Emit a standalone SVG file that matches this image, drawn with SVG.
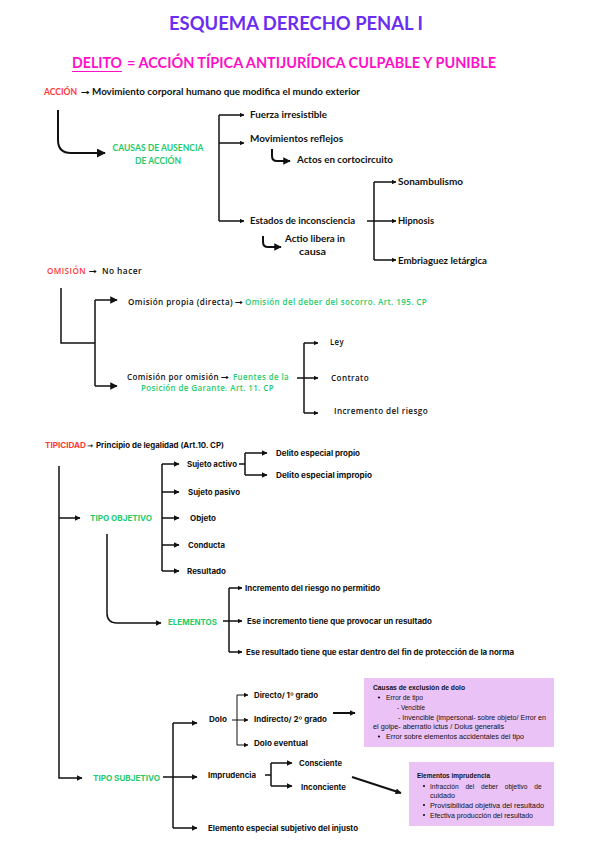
<svg xmlns="http://www.w3.org/2000/svg" width="600" height="848" viewBox="0 0 600 848">
<style>
.ac{font-family:Lato,"Open Sans","Liberation Sans",sans-serif;font-weight:700;font-size:9.5px;fill:#111}
.om{font-family:"Open Sans","Liberation Sans",sans-serif;font-weight:600;font-size:8px;fill:#111;letter-spacing:0.4px}
.ti{font-family:Inter,"Liberation Sans",sans-serif;font-weight:700;font-size:7.5px;fill:#111}
.arw{font-family:"DejaVu Sans",sans-serif;font-weight:700;fill:#111;letter-spacing:0}
.bx{font-family:"Liberation Sans",Arial,sans-serif;font-size:6.6px;fill:#111}
.bxb{font-family:"Liberation Sans",Arial,sans-serif;font-size:6.6px;font-weight:700;fill:#111}
.red{fill:#ff3838}
.grn{fill:#1fcb6b}
.ln{fill:none;stroke:#111;stroke-width:1.5}
.lt{fill:none;stroke:#111;stroke-width:2}
.box{fill:#ebc2f6}
</style>
<defs>
<marker id="a" viewBox="0 0 10 10" refX="9" refY="5" markerWidth="6" markerHeight="6" markerUnits="userSpaceOnUse" orient="auto"><path d="M0,0 L10,5 L0,10 z" fill="#111"/></marker>
<marker id="am" viewBox="0 0 10 10" refX="9" refY="5" markerWidth="7.5" markerHeight="7.5" markerUnits="userSpaceOnUse" orient="auto"><path d="M0,0 L10,5 L0,10 z" fill="#111"/></marker>
<marker id="as" viewBox="0 0 10 10" refX="9" refY="5" markerWidth="4.5" markerHeight="4.5" markerUnits="userSpaceOnUse" orient="auto"><path d="M0,0 L10,5 L0,10 z" fill="#111"/></marker>
<marker id="ab" viewBox="0 0 10 10" refX="9" refY="5" markerWidth="9" markerHeight="9" markerUnits="userSpaceOnUse" orient="auto"><path d="M0,0 L10,5 L0,10 z" fill="#111"/></marker>
</defs>

<g id="title">
<text x="296" y="30" text-anchor="middle" font-family="Lato,'Open Sans',sans-serif" font-weight="700" font-size="19" fill="#6a2ef0" textLength="254" lengthAdjust="spacingAndGlyphs">ESQUEMA DERECHO PENAL I</text>
</g>
<g id="delito">
<text x="72" y="68" font-family="Lato,'Open Sans',sans-serif" font-weight="700" font-size="15" fill="#ff0fc8" textLength="50" lengthAdjust="spacingAndGlyphs">DELITO</text>
<line x1="72" y1="71.5" x2="122" y2="71.5" stroke="#ff0fc8" stroke-width="1.2"/>
<text x="127" y="68" font-family="Lato,'Open Sans',sans-serif" font-weight="700" font-size="15" fill="#ff0fc8" textLength="369" lengthAdjust="spacingAndGlyphs">= ACCIÓN TÍPICA ANTIJURÍDICA CULPABLE Y PUNIBLE</text>
</g>

<g id="accion">
<text class="ac red" x="44" y="95" textLength="33" lengthAdjust="spacingAndGlyphs">ACCIÓN</text>
<text class="arw" font-size="8" x="81" y="95" textLength="9" lengthAdjust="spacingAndGlyphs">→</text>
<text class="ac" x="92" y="95" textLength="268" lengthAdjust="spacingAndGlyphs">Movimiento corporal humano que modifica el mundo exterior</text>
</g>
<g id="causas">
<text class="ac grn" x="158" y="151" text-anchor="middle" textLength="91" lengthAdjust="spacingAndGlyphs">CAUSAS DE AUSENCIA</text>
<text class="ac grn" x="158" y="164" text-anchor="middle" textLength="46" lengthAdjust="spacingAndGlyphs">DE ACCIÓN</text>
</g>
<g id="fuerza"><text class="ac" x="250" y="118" textLength="77" lengthAdjust="spacingAndGlyphs">Fuerza irresistible</text></g>
<g id="movimientos"><text class="ac" x="250" y="142" textLength="93" lengthAdjust="spacingAndGlyphs">Movimientos reflejos</text></g>
<g id="actos"><text class="ac" x="297" y="163" textLength="96" lengthAdjust="spacingAndGlyphs">Actos en cortocircuito</text></g>
<g id="estados"><text class="ac" x="250" y="224" textLength="105" lengthAdjust="spacingAndGlyphs">Estados de inconsciencia</text></g>
<g id="actio">
<text class="ac" x="285" y="242" textLength="60" lengthAdjust="spacingAndGlyphs">Actio libera in</text>
<text class="ac" x="299" y="255" textLength="27" lengthAdjust="spacingAndGlyphs">causa</text>
</g>
<g id="sonambulismo"><text class="ac" x="398" y="185" textLength="65" lengthAdjust="spacingAndGlyphs">Sonambulismo</text></g>
<g id="hipnosis"><text class="ac" x="398" y="224" textLength="36" lengthAdjust="spacingAndGlyphs">Hipnosis</text></g>
<g id="embriaguez"><text class="ac" x="398" y="264" textLength="89" lengthAdjust="spacingAndGlyphs">Embriaguez letárgica</text></g>

<g id="omision">
<text class="om red" x="47" y="274" textLength="39" lengthAdjust="spacingAndGlyphs">OMISIÓN</text>
<text class="arw" font-size="8" x="89" y="274" textLength="8" lengthAdjust="spacingAndGlyphs">→</text>
<text class="om" x="102" y="274" textLength="40" lengthAdjust="spacingAndGlyphs">No hacer</text>
</g>
<g id="propia">
<text class="om" x="128" y="305" textLength="105" lengthAdjust="spacingAndGlyphs">Omisión propia (directa)</text>
<text class="arw" font-size="8" x="235" y="305" textLength="8" lengthAdjust="spacingAndGlyphs">→</text>
<text class="om grn" x="245" y="305" textLength="182" lengthAdjust="spacingAndGlyphs">Omisión del deber del socorro. Art. 195. CP</text>
</g>
<g id="comision">
<text class="om" x="127" y="380" textLength="92" lengthAdjust="spacingAndGlyphs">Comisión por omisión</text>
<text class="arw" font-size="8" x="221" y="380" textLength="8" lengthAdjust="spacingAndGlyphs">→</text>
<text class="om grn" x="233" y="380" textLength="56" lengthAdjust="spacingAndGlyphs">Fuentes de la</text>
<text class="om grn" x="141" y="391" textLength="133" lengthAdjust="spacingAndGlyphs">Posición de Garante. Art. 11. CP</text>
</g>
<g id="ley"><text class="om" x="330" y="345" textLength="14" lengthAdjust="spacingAndGlyphs">Ley</text></g>
<g id="contrato"><text class="om" x="331" y="381" textLength="38" lengthAdjust="spacingAndGlyphs">Contrato</text></g>
<g id="incremento"><text class="om" x="334" y="414" textLength="94" lengthAdjust="spacingAndGlyphs">Incremento del riesgo</text></g>

<g id="tipicidad">
<text class="ti red" x="45" y="448" textLength="41" lengthAdjust="spacingAndGlyphs">TIPICIDAD</text>
<text class="arw" font-size="7" x="87" y="448" textLength="6" lengthAdjust="spacingAndGlyphs">→</text>
<text class="ti" x="96" y="448" textLength="128" lengthAdjust="spacingAndGlyphs">Principio de legalidad (Art.10. CP)</text>
</g>
<g id="tipo-objetivo"><text class="ti grn" x="90" y="521" textLength="62" lengthAdjust="spacingAndGlyphs">TIPO OBJETIVO</text></g>
<g id="sujeto-activo"><text class="ti" x="187" y="467" textLength="50" lengthAdjust="spacingAndGlyphs">Sujeto activo</text></g>
<g id="delito-propio"><text class="ti" x="276" y="456" textLength="84" lengthAdjust="spacingAndGlyphs">Delito especial propio</text></g>
<g id="delito-impropio"><text class="ti" x="276" y="478" textLength="96" lengthAdjust="spacingAndGlyphs">Delito especial impropio</text></g>
<g id="sujeto-pasivo"><text class="ti" x="188" y="495" textLength="52" lengthAdjust="spacingAndGlyphs">Sujeto pasivo</text></g>
<g id="objeto"><text class="ti" x="190" y="521" textLength="26" lengthAdjust="spacingAndGlyphs">Objeto</text></g>
<g id="conducta"><text class="ti" x="188" y="548" textLength="37" lengthAdjust="spacingAndGlyphs">Conducta</text></g>
<g id="resultado"><text class="ti" x="187" y="574" textLength="39" lengthAdjust="spacingAndGlyphs">Resultado</text></g>
<g id="elementos"><text class="ti grn" x="168" y="625" textLength="49" lengthAdjust="spacingAndGlyphs">ELEMENTOS</text></g>
<g id="el1"><text class="ti" x="245" y="591" textLength="135" lengthAdjust="spacingAndGlyphs">Incremento del riesgo no permitido</text></g>
<g id="el2"><text class="ti" x="247" y="624" textLength="185" lengthAdjust="spacingAndGlyphs">Ese incremento tiene que provocar un resultado</text></g>
<g id="el3"><text class="ti" x="246" y="655" textLength="268" lengthAdjust="spacingAndGlyphs">Ese resultado tiene que estar dentro del fin de protección de la norma</text></g>
<g id="tipo-subjetivo"><text class="ti grn" x="93" y="781" textLength="67" lengthAdjust="spacingAndGlyphs">TIPO SUBJETIVO</text></g>
<g id="dolo"><text class="ti" x="209" y="722" textLength="18" lengthAdjust="spacingAndGlyphs">Dolo</text></g>
<g id="directo"><text class="ti" x="254" y="698" textLength="64" lengthAdjust="spacingAndGlyphs">Directo/ 1º grado</text></g>
<g id="indirecto"><text class="ti" x="254" y="722" textLength="73" lengthAdjust="spacingAndGlyphs">Indirecto/ 2º grado</text></g>
<g id="eventual"><text class="ti" x="254" y="746" textLength="54" lengthAdjust="spacingAndGlyphs">Dolo eventual</text></g>
<g id="imprudencia"><text class="ti" x="208" y="778" textLength="48" lengthAdjust="spacingAndGlyphs">Imprudencia</text></g>
<g id="consciente"><text class="ti" x="299" y="766" textLength="43" lengthAdjust="spacingAndGlyphs">Consciente</text></g>
<g id="inconciente"><text class="ti" x="301" y="790" textLength="45" lengthAdjust="spacingAndGlyphs">Inconciente</text></g>
<g id="elemento-especial"><text class="ti" x="208" y="831" textLength="150" lengthAdjust="spacingAndGlyphs">Elemento especial subjetivo del injusto</text></g>

<g id="box-dolo">
<rect class="box" x="364" y="678" width="190" height="69"/>
<text class="bxb" x="373" y="690" textLength="92" lengthAdjust="spacingAndGlyphs">Causas de exclusión de dolo</text>
<circle cx="379" cy="697.5" r="1.1" fill="#111"/>
<text class="bx" x="386" y="700" textLength="37" lengthAdjust="spacingAndGlyphs">Error de tipo</text>
<text class="bx" x="397" y="710" textLength="28" lengthAdjust="spacingAndGlyphs">- Vencible</text>
<text class="bx" x="398" y="720" textLength="148" lengthAdjust="spacingAndGlyphs">- Invencible (impersonal- sobre objeto/ Error en</text>
<text class="bx" x="373" y="729" textLength="131" lengthAdjust="spacingAndGlyphs">el golpe- aberratio ictus / Dolus generalis</text>
<circle cx="379" cy="736.5" r="1.1" fill="#111"/>
<text class="bx" x="386" y="739" textLength="138" lengthAdjust="spacingAndGlyphs">Error sobre elementos accidentales del tipo</text>
</g>
<g id="box-imprudencia">
<rect class="box" x="409" y="762" width="145" height="64"/>
<text class="bxb" x="417" y="778" textLength="73" lengthAdjust="spacingAndGlyphs">Elementos imprudencia</text>
<circle cx="424" cy="786" r="1.1" fill="#111"/>
<text class="bx" x="430" y="788.5" word-spacing="5">Infracción del deber objetivo de</text>
<text class="bx" x="430" y="798" textLength="25" lengthAdjust="spacingAndGlyphs">cuidado</text>
<circle cx="424" cy="805" r="1.1" fill="#111"/>
<text class="bx" x="430" y="807.5" textLength="114" lengthAdjust="spacingAndGlyphs">Provisibilidad objetiva del resultado</text>
<circle cx="424" cy="815" r="1.1" fill="#111"/>
<text class="bx" x="430" y="817.5" textLength="103" lengthAdjust="spacingAndGlyphs">Efectiva producción del resultado</text>
</g>

<g id="connectors">
<path class="lt" d="M58,110 V140 Q58,153 71,153 H105" marker-end="url(#ab)"/>
<path class="ln" d="M219,115 V221"/>
<path class="ln" d="M219,115 H244" marker-end="url(#as)"/>
<path class="ln" d="M219,143 H244" marker-end="url(#as)"/>
<path class="ln" d="M219,221 H244" marker-end="url(#as)"/>
<path class="lt" d="M272,149 V156 Q272,161 277,161 H290" marker-end="url(#am)"/>
<path class="lt" d="M263,236 V242 Q263,247 268,247 H281" marker-end="url(#am)"/>
<path class="ln" d="M374,182 V260"/>
<path class="ln" d="M374,182 H396" marker-end="url(#as)"/>
<path class="ln" d="M367,221 H396" marker-end="url(#as)"/>
<path class="ln" d="M374,260 H396" marker-end="url(#as)"/>

<path class="ln" d="M61,288 V343 H95"/>
<path class="ln" d="M95,300 V386"/>
<path class="ln" d="M95,300 H117" marker-end="url(#am)"/>
<path class="ln" d="M95,386 H117" marker-end="url(#am)"/>
<path class="ln" d="M304,343 V413"/>
<path class="ln" d="M304,343 H318" marker-end="url(#as)"/>
<path class="ln" d="M297,378 H318" marker-end="url(#as)"/>
<path class="ln" d="M304,413 H318" marker-end="url(#as)"/>

<path class="ln" d="M59,466 V778 H82" marker-end="url(#a)"/>
<path class="ln" d="M59,518 H80" marker-end="url(#a)"/>
<path class="ln" d="M162,464 V571"/>
<path class="ln" d="M162,464 H179" marker-end="url(#a)"/>
<path class="ln" d="M162,492 H179" marker-end="url(#a)"/>
<path class="ln" d="M162,518 H179" marker-end="url(#a)"/>
<path class="ln" d="M162,545 H179" marker-end="url(#a)"/>
<path class="ln" d="M162,571 H179" marker-end="url(#a)"/>
<path class="ln" d="M239,464 H245"/>
<path class="ln" d="M245,453 V475"/>
<path class="ln" d="M245,453 H267" marker-end="url(#a)"/>
<path class="ln" d="M245,475 H267" marker-end="url(#a)"/>
<path class="ln" d="M107,534 V613 Q107,623 117,623 H161" marker-end="url(#a)"/>
<path class="ln" d="M229,588 V652"/>
<path class="ln" d="M229,588 H242" marker-end="url(#as)"/>
<path class="ln" d="M223,621 H242" marker-end="url(#as)"/>
<path class="ln" d="M229,652 H242" marker-end="url(#as)"/>
<path class="ln" d="M163,777 H197" marker-end="url(#a)"/>
<path class="ln" d="M173,723 V828"/>
<path class="ln" d="M173,723 H197" marker-end="url(#a)"/>
<path class="ln" d="M173,828 H197" marker-end="url(#a)"/>
<path class="ln" style="stroke-width:1" d="M232,720 H248" marker-end="url(#as)"/>
<path class="ln" style="stroke-width:1" d="M237,695 V745"/>
<path class="ln" style="stroke-width:1" d="M237,695 H248" marker-end="url(#as)"/>
<path class="ln" style="stroke-width:1" d="M237,745 H248" marker-end="url(#as)"/>
<path class="lt" d="M333,713 H355" marker-end="url(#a)"/>
<path class="ln" d="M265,775 H271"/>
<path class="ln" d="M271,763 V786"/>
<path class="ln" d="M271,763 H292" marker-end="url(#a)"/>
<path class="ln" d="M271,786 H292" marker-end="url(#a)"/>
<path class="lt" d="M352,777 L401,793" marker-end="url(#a)"/>
</g>
</svg>
